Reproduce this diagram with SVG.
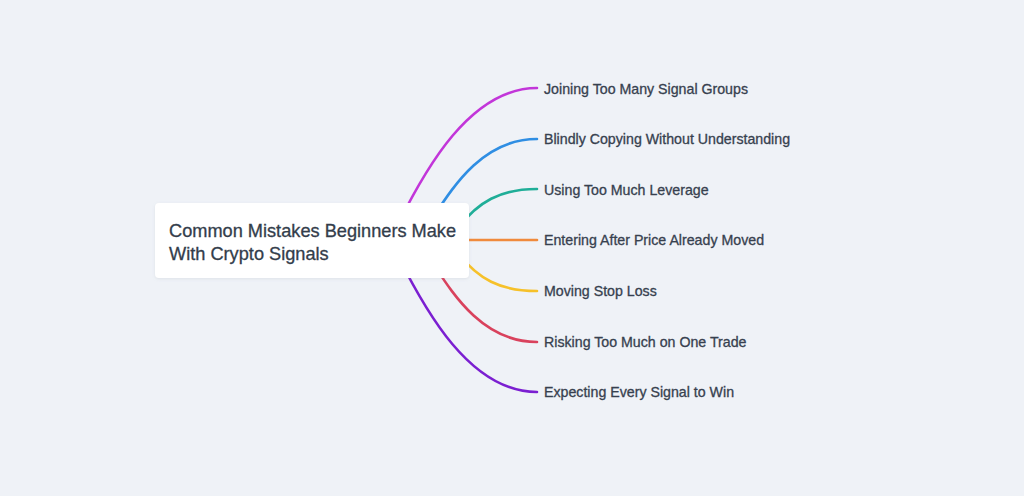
<svg xmlns="http://www.w3.org/2000/svg" width="1024" height="496" viewBox="0 0 1024 496">
  <defs>
    <filter id="sh" x="-10%" y="-20%" width="120%" height="150%">
      <feDropShadow dx="0" dy="1" stdDeviation="1.5" flood-color="#8a94a6" flood-opacity="0.18"/>
    </filter>
  </defs>
  <style>
    .link { fill: none; stroke-width: 2.6; stroke-linecap: round; }
    .lbl { font-family: "Liberation Sans", Arial, sans-serif; font-size: 14.2px; fill: #37414f; stroke: #37414f; stroke-width: 0.3; }
    .title { font-family: "Liberation Sans", Arial, sans-serif; font-size: 18.2px; fill: #333d4b; stroke: #333d4b; stroke-width: 0.3; }
  </style>
  <rect width="1024" height="496" fill="#eff2f7"/>
  <g id="connectors">
    <path class="link" stroke="#c236d9" d="M398 224 C425 170 470 88 537 88"/>
    <path class="link" stroke="#2f8ee3" d="M430 222 C450 192 480 139 537 139"/>
    <path class="link" stroke="#1fae98" d="M458 228 C478 202 500 189 537 189"/>
    <path class="link" stroke="#f08a3c" d="M460 240 L537 240"/>
    <path class="link" stroke="#f6c12a" d="M458 253 C478 279 500 291 537 291"/>
    <path class="link" stroke="#d9425d" d="M430 259 C450 289 480 342 537 342"/>
    <path class="link" stroke="#7b1fd1" d="M398 256 C425 310 470 392 537 392"/>
  </g>
  <g id="root">
    <rect x="155" y="203" width="314" height="75" rx="4" fill="#ffffff" filter="url(#sh)"/>
    <text class="title" x="169" y="236.5">Common Mistakes Beginners Make</text>
    <text class="title" x="169" y="260">With Crypto Signals</text>
  </g>
  <g id="n1"><text class="lbl" x="544" y="93.5">Joining Too Many Signal Groups</text></g>
  <g id="n2"><text class="lbl" x="544" y="144">Blindly Copying Without Understanding</text></g>
  <g id="n3"><text class="lbl" x="544" y="194.5">Using Too Much Leverage</text></g>
  <g id="n4"><text class="lbl" x="544" y="245">Entering After Price Already Moved</text></g>
  <g id="n5"><text class="lbl" x="544" y="296">Moving Stop Loss</text></g>
  <g id="n6"><text class="lbl" x="544" y="347">Risking Too Much on One Trade</text></g>
  <g id="n7"><text class="lbl" x="544" y="397">Expecting Every Signal to Win</text></g>
</svg>
